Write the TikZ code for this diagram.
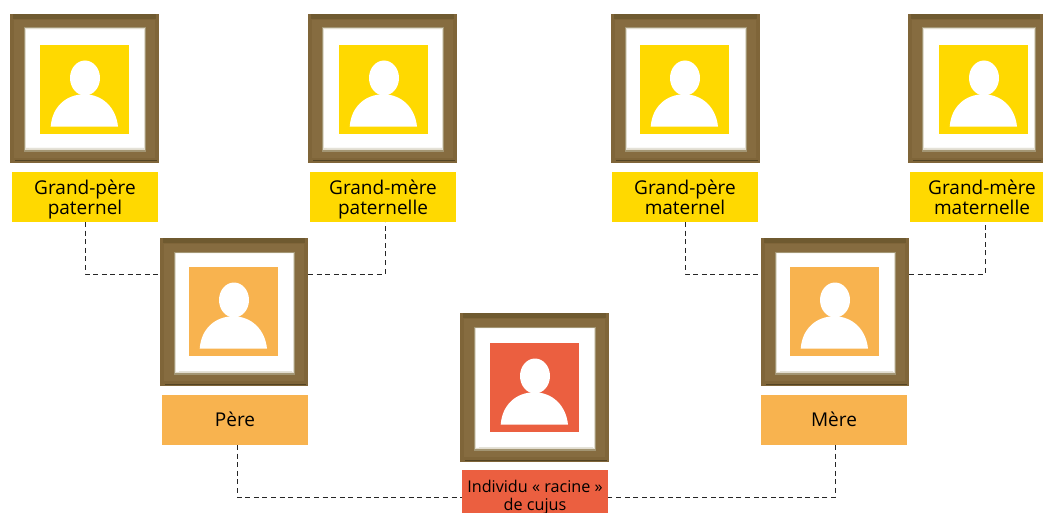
\documentclass[tikz,border=0pt]{standalone}
\usepackage{fontspec}
\setmainfont{Open Sans}
\definecolor{gold}{HTML}{FFD900}
\definecolor{apricot}{HTML}{F8B34F}
\definecolor{coral}{HTML}{EB5F40}
\definecolor{fbase}{HTML}{7F6539}
\definecolor{fmid}{HTML}{866C40}
\definecolor{fdark}{HTML}{6F5A30}
\definecolor{fsoft}{HTML}{A39674}
\definecolor{fpale}{HTML}{E2DDD0}
\definecolor{fedge}{HTML}{FAF9F6}
\definecolor{flow}{HTML}{E4E2D8}
\tikzset{
  framebox/.style={fill=fbase,inner sep=0pt,outer sep=0pt,anchor=north west},
  photo/.style={inner sep=0pt,outer sep=0pt,anchor=north west,minimum size=89pt},
  namebox/.style={inner sep=0pt,outer sep=0pt,text=black,align=center,font=\fontsize{19}{19.8}\selectfont},
  conn/.style={draw=black!85,line width=0.9pt,dash pattern=on 5pt off 3.6pt},
}
% name, left, top, width, height, photo left, photo top, colour, right inset of the mat
\newcommand{\portrait}[9]{%
  \node[framebox,minimum width=#4pt,minimum height=#5pt] (#1) at (#2,#3) {};
  \begin{scope}[shift={(#2,#3)}]
    \fill[fdark] (3,0) rectangle (#4-3,5);
    \fill[fmid] (4,6) rectangle (#4-#9+11,#5-5);
    \fill[fsoft] (14,13.5) rectangle (#4-#9+1.5,#5-11);
    \fill[fpale] (15,14.5) rectangle (#4-#9+.8,#5-13);
    \fill[fedge] (15.6,15.2) rectangle (#4-#9+.2,#5-14.5);
    \fill[white] (16.2,16) rectangle (#4-#9-.5,#5-15.5);
    \fill[flow] (19,#5-15) rectangle (#4-#9-1,#5-14);
    \fill[fdark!75!black] (5,#5-2.5) rectangle (#4-2,#5-1.5);
  \end{scope}
  \node[photo,fill=#8] (#1p) at (#6,#7) {};
  \begin{scope}[shift={(#6,#7)}]
    \fill[white] (45,33) ellipse [x radius=15pt,y radius=17.5pt];
    \fill[white] (10.7,81.7) .. controls (12,62) and (26,49.3) .. (44.3,49.3)
      .. controls (62,49.3) and (76,62) .. (78,81.7) -- cycle;
  \end{scope}
}
\begin{document}
\begin{tikzpicture}[x=1pt,y=-1pt]
\useasboundingbox (0,0) rectangle (1043,513);
\clip (0,0) rectangle (1043,513);
\fill[white] (0,0) rectangle (1043,513);
% labels
\node[namebox,fill=gold,minimum width=146pt,minimum height=50pt] (l1) at (85,197) {Grand-père\\\smash{paternel}};
\node[namebox,fill=gold,minimum width=146pt,minimum height=50pt] (l2) at (383,197) {Grand-mère\\\smash{paternelle}};
\node[namebox,fill=gold,minimum width=146pt,minimum height=50pt] (l3) at (685,197) {Grand-père\\maternel};
\node[namebox,fill=gold,minimum width=144pt,minimum height=50pt] (l4) at (982,197) {Grand-mère\\maternelle};
\node[namebox,fill=apricot,minimum width=146pt,minimum height=50pt] (l5) at (235,420) {\raisebox{1pt}{Père}};
\node[namebox,fill=apricot,minimum width=146pt,minimum height=50pt] (l6) at (834,420) {\raisebox{1pt}{Mère}};
\node[namebox,fill=coral,minimum width=146pt,minimum height=50pt,font=\fontsize{16.2}{18}\selectfont] (l7) at (535,495) {Individu « racine »\\\smash{de cujus}};
% portraits
\portrait{f1}{10}{14}{149}{149}{40}{45}{gold}{15}
\portrait{f2}{308}{14}{149}{149}{339}{45}{gold}{15}
\portrait{f3}{611}{14}{149}{149}{640}{45}{gold}{15}
\portrait{f4}{908}{14}{135}{149}{939}{45}{gold}{9}
\portrait{f5}{160}{238}{148}{148}{189}{267}{apricot}{15}
\portrait{f6}{761}{238}{148}{148}{790}{267}{apricot}{15}
\portrait{f7}{460}{313}{149}{149}{490}{343}{coral}{15}
% connectors
\draw[conn] (l1.south) |- ([yshift=-36pt]f5.north west);
\draw[conn] ([yshift=-36pt]f5.north east) -| ([xshift=2pt]l2.south);
\draw[conn] (l3.south) |- ([yshift=-36pt]f6.north west);
\draw[conn] ([yshift=-36pt]f6.north east) -| ([xshift=3pt]l4.south);
\draw[conn] ([xshift=2.5pt]l5.south) |- ([yshift=-2.5pt]l7.west);
\draw[conn] ([xshift=1pt]l6.south) |- ([yshift=-2.5pt]l7.east);
\end{tikzpicture}
\end{document}
